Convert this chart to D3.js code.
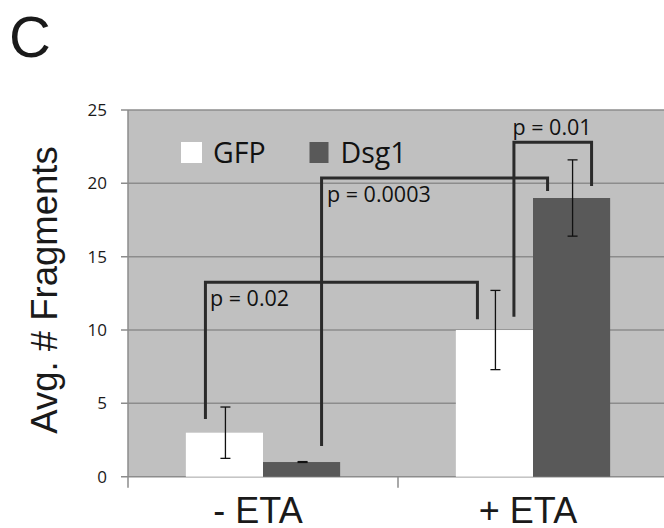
<!DOCTYPE html>
<html><head><meta charset="utf-8">
<script src="https://cdn.jsdelivr.net/npm/d3@7"></script>
<style>html,body{margin:0;padding:0;background:#fff;}svg{display:block;}</style>
</head><body>
<script>
const categories = ["- ETA", "+ ETA"];
const series = ["GFP", "Dsg1"];
const gfpValues = [3, 10];
const dsg1Values = [1, 19];
const gfpErrors = [1.75, 2.7];
const dsg1Errors = [0.03, 2.6];
const yTicks = [0, 5, 10, 15, 20, 25];
// significance brackets: [fromCat, fromSeries, toCat, toSeries], heights in data units
const pLabels = ["p = 0.02", "p = 0.0003", "p = 0.01"];
const bracketFrom = [[0, 0], [0, 1], [1, 0]];
const bracketTo = [[1, 0], [1, 1], [1, 1]];
const bracketTop = [13.25, 20.37, 22.8];
const bracketLeftEnd = [3.93, 2.09, 10.9];
const bracketRightEnd = [10.73, 19.48, 19.82];

const W = 664, H = 528;
const svg = d3.select("body").append("svg").attr("width", W).attr("height", H);

const plotLeft = 128, plotRight = 668, plotTop = 110, plotBottom = 476.7;
const x = d3.scaleBand().domain(categories).range([plotLeft, plotRight]).padding(0);
const x1 = d3.scaleBand().domain(series).range([0, x.bandwidth()]).paddingInner(0).paddingOuter(0.75);
const y = d3.scaleLinear().domain([0, 25]).range([plotBottom, plotTop]);
const colors = {GFP: "#ffffff", Dsg1: "#595959"};

// panel letter
svg.append("text").attr("x", 9).attr("y", 57).attr("font-family", "Liberation Sans, Arial, sans-serif")
  .attr("font-size", 58).attr("fill", "#1a1a1a").text("C");

// plot background
svg.append("rect").attr("x", plotLeft).attr("y", plotTop).attr("width", W - plotLeft).attr("height", plotBottom - plotTop)
  .attr("fill", "#c0c0c0");

// gridlines
svg.append("g").selectAll("line").data(yTicks).join("line")
  .attr("x1", plotLeft - 7).attr("x2", W).attr("y1", d => y(d)).attr("y2", d => y(d))
  .attr("stroke", "#8c8c8c").attr("stroke-width", 1.5);

// y axis line
svg.append("line").attr("x1", plotLeft).attr("x2", plotLeft).attr("y1", plotTop).attr("y2", plotBottom + 11)
  .attr("stroke", "#8c8c8c").attr("stroke-width", 1.5);
// category tick marks
svg.append("g").selectAll("line").data(categories.slice(1)).join("line")
  .attr("x1", d => x(d)).attr("x2", d => x(d)).attr("y1", plotBottom).attr("y2", plotBottom + 11)
  .attr("stroke", "#8c8c8c").attr("stroke-width", 1.5);

// y tick labels
svg.append("g").selectAll("text").data(yTicks).join("text")
  .attr("x", 107).attr("y", d => y(d) + 6).attr("text-anchor", "end")
  .attr("font-family", "Open Sans, sans-serif").attr("font-size", 17).attr("fill", "#1a1a1a")
  .text(d => d);

// data rows
const rows = categories.map((c, i) => ({cat: c, vals: [
  {s: "GFP", v: gfpValues[i], e: gfpErrors[i]},
  {s: "Dsg1", v: dsg1Values[i], e: dsg1Errors[i]}]}));

const g = svg.append("g").selectAll("g").data(rows).join("g").attr("transform", d => `translate(${x(d.cat)},0)`);
g.selectAll("rect").data(d => d.vals).join("rect")
  .attr("x", d => x1(d.s)).attr("width", x1.bandwidth())
  .attr("y", d => y(d.v)).attr("height", d => y(0) - y(d.v))
  .attr("fill", d => colors[d.s]);

// error bars
const eb = g.selectAll("g.err").data(d => d.vals).join("g").attr("class", "err");
eb.append("line").attr("x1", d => x1(d.s) + x1.bandwidth() / 2 + 1).attr("x2", d => x1(d.s) + x1.bandwidth() / 2 + 1)
  .attr("y1", d => y(d.v + d.e)).attr("y2", d => y(d.v - d.e)).attr("stroke", "#111").attr("stroke-width", 1.3);
eb.append("line").attr("x1", d => x1(d.s) + x1.bandwidth() / 2 - 4).attr("x2", d => x1(d.s) + x1.bandwidth() / 2 + 6)
  .attr("y1", d => y(d.v + d.e)).attr("y2", d => y(d.v + d.e)).attr("stroke", "#111").attr("stroke-width", 1.3);
eb.append("line").attr("x1", d => x1(d.s) + x1.bandwidth() / 2 - 4).attr("x2", d => x1(d.s) + x1.bandwidth() / 2 + 6)
  .attr("y1", d => y(d.v - d.e)).attr("y2", d => y(d.v - d.e)).attr("stroke", "#111").attr("stroke-width", 1.3);

// brackets
const cx = (ci, si) => x(categories[ci]) + x1(series[si]) + x1.bandwidth() / 2;
const legOffsetL = [-19, 20, 19.5];
const legOffsetR = [-17, -24, 20];
const textPos = [[210, 306], [327, 202], [512.5, 135]];
pLabels.forEach((lab, i) => {
  const xl = cx(bracketFrom[i][0], bracketFrom[i][1]) + legOffsetL[i];
  const xr = cx(bracketTo[i][0], bracketTo[i][1]) + legOffsetR[i];
  const path = d3.path();
  path.moveTo(xl, y(bracketLeftEnd[i]));
  path.lineTo(xl, y(bracketTop[i]));
  path.lineTo(xr, y(bracketTop[i]));
  path.lineTo(xr, y(bracketRightEnd[i]));
  svg.append("path").attr("d", path.toString()).attr("fill", "none")
    .attr("stroke", "#2a2a2a").attr("stroke-width", 3);
  svg.append("text").attr("x", textPos[i][0]).attr("y", textPos[i][1])
    .attr("font-family", "Open Sans, sans-serif").attr("font-size", 21.5).attr("fill", "#111").text(lab);
});

// legend
const legX = [181, 309.5];
series.forEach((s, i) => {
  svg.append("rect").attr("x", legX[i]).attr("y", 142).attr("width", i === 0 ? 21 : 19).attr("height", 21)
    .attr("fill", colors[s]);
  svg.append("text").attr("x", legX[i] + (i === 0 ? 32 : 31)).attr("y", 162.5)
    .attr("font-family", "Open Sans, sans-serif").attr("font-size", 28.5).attr("fill", "#111").text(s);
});

// category labels
svg.append("g").selectAll("text").data(categories).join("text")
  .attr("x", d => x(d) + x.bandwidth() / 2 - 5).attr("y", 523).attr("text-anchor", "middle")
  .attr("font-family", "Liberation Sans, Arial, sans-serif").attr("font-size", 36).attr("fill", "#1a1a1a")
  .text(d => d);

// y axis title
svg.append("text").attr("transform", "translate(57,290) rotate(-90)").attr("text-anchor", "middle")
  .attr("font-family", "Liberation Sans, Arial, sans-serif").attr("font-size", 36.5).attr("fill", "#1a1a1a")
  .text("Avg. # Fragments");
</script>
</body></html>
